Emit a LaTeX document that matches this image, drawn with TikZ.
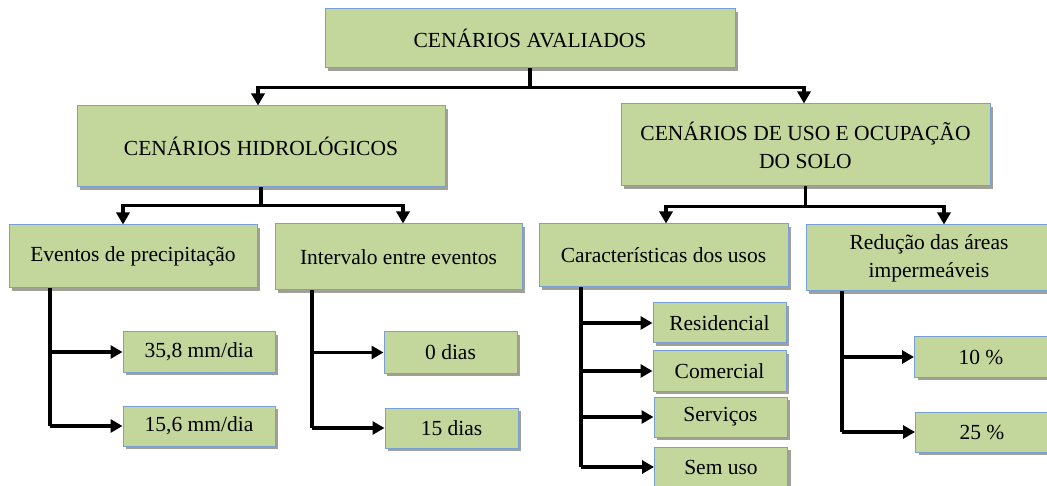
\documentclass[tikz,border=0pt]{standalone}
\usepackage{fontspec}
\setmainfont{Liberation Serif}
\usetikzlibrary{arrows.meta,shadows}
\definecolor{boxfill}{RGB}{195,214,155}
\definecolor{boxline}{RGB}{120,160,215}
\definecolor{shadowc}{RGB}{160,160,150}
\tikzset{
  box/.style={draw=boxline, line width=1pt, fill=boxfill, inner sep=0pt, align=center,
    font=\fontsize{21.5}{28}\selectfont,
    drop shadow={shadow xshift=3pt, shadow yshift=-3pt, fill=shadowc, opacity=1}},
  conn/.style={line width=3.8pt, black},
  arr/.style={conn, -{Triangle[length=12pt,width=13pt]}}
}
\begin{document}
\begin{tikzpicture}[x=1pt,y=-1pt]
\useasboundingbox (0,0) rectangle (1047,486);
\clip (0,0) rectangle (1047,486);
\fill[white] (0,0) rectangle (1047,486);
% nodes
\node[box, minimum width=410pt, minimum height=59pt] (top) at (530,38.5) {CENÁRIOS AVALIADOS};
\node[box, minimum width=368pt, minimum height=81pt] (hid) at (261,146.5) {CENÁRIOS HIDROLÓGICOS};
\node[box, minimum width=369pt, minimum height=82pt] (uso) at (805.5,145) {CENÁRIOS DE USO E OCUPAÇÃO\\DO SOLO};
\node[box, minimum width=248pt, minimum height=63pt] (ev) at (133,256.5) {Eventos de precipitação};
\node[box, minimum width=247pt, minimum height=66pt] (int) at (398.5,257) {Intervalo entre eventos};
\node[box, minimum width=249pt, minimum height=63pt] (car) at (663.5,255.5) {Características dos usos};
\node[box, minimum width=246pt, minimum height=66pt] (red) at (929,258) {Redução das áreas\\impermeáveis};
\node[box, minimum width=152pt, minimum height=40pt] (p35) at (199,352) {35,8 mm/dia};
\node[box, minimum width=152pt, minimum height=40pt] (p15) at (199,426) {15,6 mm/dia};
\node[box, minimum width=133pt, minimum height=41pt] (d0) at (450.5,352.5) {0 dias};
\node[box, minimum width=133pt, minimum height=40pt] (d15) at (451.5,428) {15 dias};
\node[box, minimum width=133pt, minimum height=40pt] (res) at (719.5,323) {Residencial};
\node[box, minimum width=133pt, minimum height=40pt] (com) at (719.5,371) {Comercial};
\node[box, minimum width=133pt, minimum height=40pt] (ser) at (720.5,417) {Serviços};
\node[box, minimum width=133pt, minimum height=40pt] (sem) at (721,467) {Sem uso};
\node[box, minimum width=133pt, minimum height=40pt] (p10) at (981,357) {10 \%};
\node[box, minimum width=133pt, minimum height=40pt] (p25) at (982,432) {25 \%};
% trunk coordinates
\coordinate (xe) at (50,0);
\coordinate (xi) at (312,0);
\coordinate (xc) at (581,0);
\coordinate (xr) at (842,0);
% level 1
\draw[conn] (top.south) -- ++(0,19) coordinate (j0);
\draw[arr] (j0) -| ([xshift=-3pt]hid.north);
\draw[arr] (j0) -| ([xshift=-1.5pt]uso.north);
% level 2
\draw[conn] (hid.south) -- ++(0,18) coordinate (j1);
\draw[arr] (j1) -| ([xshift=-10pt]ev.north);
\draw[arr] (j1) -| ([xshift=4.5pt]int.north);
\draw[conn] (uso.south) -- ++(0,20) coordinate (j2);
\draw[arr] (j2) -| ([xshift=2.5pt]car.north);
\draw[arr] (j2) -| ([xshift=15pt]red.north);
% level 3
\draw[conn] (ev.south -| xe) -- (p15.west -| xe);
\draw[arr] (p35.west -| xe) -- (p35.west);
\draw[arr] (p15.west -| xe) -- (p15.west);
\draw[conn] (int.south -| xi) -- (d15.west -| xi);
\draw[arr] (d0.west -| xi) -- (d0.west);
\draw[arr] (d15.west -| xi) -- (d15.west);
\draw[conn] (car.south -| xc) -- (sem.west -| xc);
\draw[arr] (res.west -| xc) -- (res.west);
\draw[arr] (com.west -| xc) -- (com.west);
\draw[arr] (ser.west -| xc) -- (ser.west);
\draw[arr] (sem.west -| xc) -- (sem.west);
\draw[conn] (red.south -| xr) -- (p25.west -| xr);
\draw[arr] (p10.west -| xr) -- (p10.west);
\draw[arr] (p25.west -| xr) -- (p25.west);
\end{tikzpicture}
\end{document}
